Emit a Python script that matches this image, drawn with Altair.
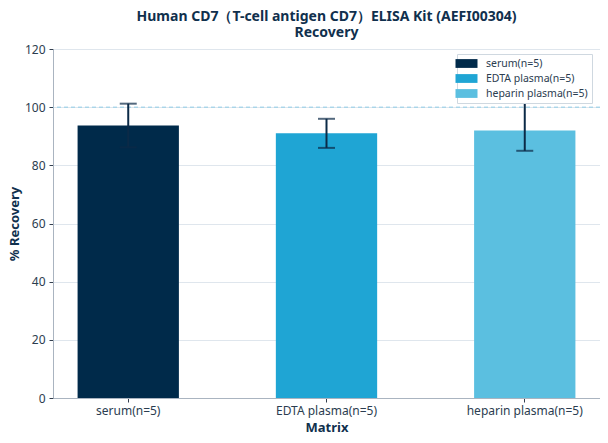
import altair as alt
import pandas as pd

categories = ["serum(n=5)", "EDTA plasma(n=5)", "heparin plasma(n=5)"]
recovery = [93.7, 91.0, 92.0]
err_low = [86.2, 86.0, 85.0]
err_high = [101.2, 96.0, 107.0]
colors = ["#002a4a", "#1fa5d4", "#5bbfe0"]

df = pd.DataFrame({"Matrix": categories, "Recovery": recovery, "low": err_low, "high": err_high})

FONT = "Noto Sans"
xscale = alt.Scale(domain=categories, paddingInner=0.489, paddingOuter=0.124)
yscale = alt.Scale(domain=[0, 120])

x = alt.X("Matrix:N", scale=xscale, sort=categories,
          axis=alt.Axis(title="Matrix", labelAngle=0, labelFontSize=12, labelColor="#2b3d50",
                        titleFontSize=13, titleFontWeight="bold", titleColor="#10304d",
                        domainColor="#aab4c0", tickColor="#333f4f", tickSize=4, labelPadding=3,
                        titlePadding=5))

bars = alt.Chart(df).mark_bar().encode(
    x=x,
    y=alt.Y("Recovery:Q", scale=yscale,
            axis=alt.Axis(title="% Recovery", values=[0, 20, 40, 60, 80, 100, 120],
                          labelFontSize=12, labelColor="#2b3d50", titleFontSize=13,
                          titleFontWeight="bold", titleColor="#10304d", gridColor="#dfe6ed",
                          domainColor="#aab4c0", tickColor="#333f4f", tickSize=4,
                          labelPadding=4, titlePadding=3)),
    color=alt.Color("Matrix:N", scale=alt.Scale(domain=categories, range=colors),
                    legend=alt.Legend(title=None, orient="none", legendX=404, legendY=5,
                                      labelFontSize=10.5, labelColor="#2b3d50",
                                      fillColor="white", strokeColor="#cfd8e0",
                                      padding=4, rowPadding=4, labelOffset=14)),
)

refline = alt.Chart(pd.DataFrame({"y": [100]})).mark_rule(
    color="#8fcbe6", strokeDash=[4, 3], strokeWidth=1).encode(y=alt.Y("y:Q", scale=yscale))

rules = alt.Chart(df).mark_rule(color="#0b2a47", strokeWidth=2).encode(
    x=alt.X("Matrix:N", scale=xscale, sort=categories),
    y=alt.Y("low:Q", scale=yscale), y2="high:Q")

caps_hi = alt.Chart(df).mark_tick(color="#0b2a47", size=17, thickness=2).encode(
    x=alt.X("Matrix:N", scale=xscale, sort=categories),
    y=alt.Y("high:Q", scale=yscale))
caps_lo = alt.Chart(df).mark_tick(color="#0b2a47", size=17, thickness=2).encode(
    x=alt.X("Matrix:N", scale=xscale, sort=categories),
    y=alt.Y("low:Q", scale=yscale))

chart = alt.layer(bars, refline, rules, caps_hi, caps_lo).properties(
    width=547, height=349,
    title=alt.Title(["Human CD7（T-cell antigen CD7）ELISA Kit (AEFI00304)", "Recovery"],
                    fontSize=14, fontWeight="bold", color="#10304d", font=FONT,
                    anchor="middle", offset=3, lineHeight=16),
    autosize=alt.AutoSizeParams(type="none"),
    padding={"left": 45, "top": 41, "right": 0, "bottom": 45},
).configure(font=FONT).configure_view(stroke=None).configure_legend(
    symbolType="M-2,-0.8H2V0.8H-2Z", symbolSize=121, symbolStrokeWidth=0
)

chart.save("out.html", embed_options={"renderer": "svg", "actions": False})
